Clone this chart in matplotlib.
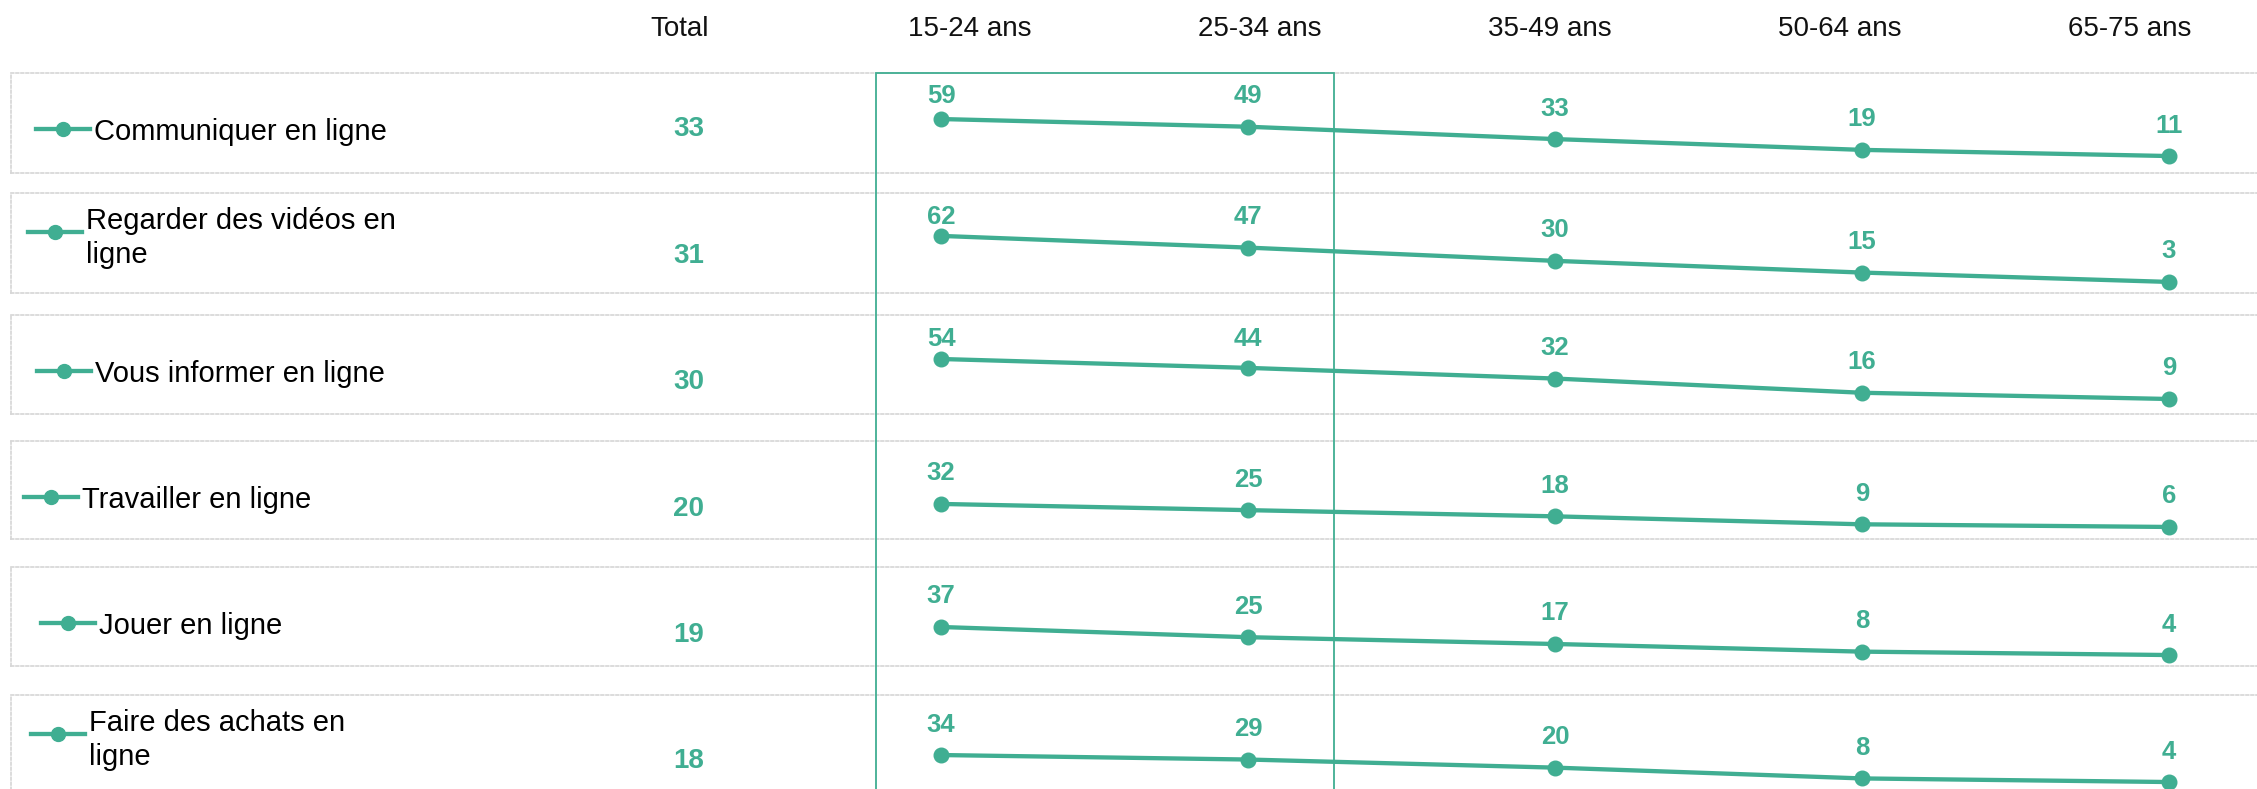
import matplotlib.pyplot as plt
from matplotlib.patches import Rectangle

plt.rcParams['font.family'] = ['Liberation Sans', 'DejaVu Sans']

# --- data ---
activities = ["Communiquer en ligne", "Regarder des vidéos en\nligne", "Vous informer en ligne",
              "Travailler en ligne", "Jouer en ligne", "Faire des achats en\nligne"]
age_groups = ["15-24 ans", "25-34 ans", "35-49 ans", "50-64 ans", "65-75 ans"]
total = [33, 31, 30, 20, 19, 18]
age_15_24 = [59, 62, 54, 32, 37, 34]
age_25_34 = [49, 47, 44, 25, 25, 29]
age_35_49 = [33, 30, 32, 18, 17, 20]
age_50_64 = [19, 15, 16, 9, 8, 8]
age_65_75 = [11, 3, 9, 6, 4, 4]

# --- layout (pixels, top-left origin) ---
W, H = 2257, 789
teal = '#40AE92'
grey = '#D6D6D6'
row_top = [73, 193, 315, 441, 567, 695]
row_bottom = [173, 293, 414, 539, 666, 794]
row_ylim = [(-11.0, 118.7), (-11.2, 117.0), (-7.9, 103.5), (-7.6, 103.1), (-8.9, 107.6), (-9.3, 100.7)]
key_x = [36, 28, 37, 24, 41, 31]
total_dy = [53, 60, 64, 65, 65, 63]
box_left, box_right = 11, 2265
pt0, pt_step = 941, 307
head_x0, head_step = 680, 290

fig = plt.figure(figsize=(W / 100, H / 100), dpi=100)


def fx(px):
    return px / W


def fy(py):
    return 1 - py / H


# column headers
fig.text(fx(head_x0), fy(26.5), "Total", ha='center', va='center_baseline', fontsize=20, color='#111111')
for i, g in enumerate(age_groups):
    fig.text(fx(head_x0 + head_step * (i + 1)), fy(26.5), g, ha='center', va='center_baseline',
             fontsize=20, color='#111111')

series = list(zip(age_15_24, age_25_34, age_35_49, age_50_64, age_65_75))

for r, name in enumerate(activities):
    top, bot = row_top[r], row_bottom[r]
    hpx = bot - top
    ax = fig.add_axes([fx(box_left), fy(bot), fx(box_right - box_left), hpx / H])
    ax.set_facecolor('none')
    lo, hi = row_ylim[r]
    ax.set_ylim(lo, hi)
    ax.set_xlim((box_left - pt0) / pt_step, (box_right - pt0) / pt_step)
    ax.set_xticks([])
    ax.set_yticks([])
    for sp in ax.spines.values():
        sp.set_color(grey)
        sp.set_linewidth(1.2)
        sp.set_linestyle((0, (1.6, 1.4)))

    vals = series[r]
    xs = range(len(vals))
    ax.plot(xs, vals, color=teal, lw=3.1, marker='o', ms=10.5, solid_capstyle='round',
            clip_on=False, zorder=3)

    s = hpx / (hi - lo)  # px per unit
    for x, v in zip(xs, vals):
        ly = min(v + 33 / s, hi - 21 / s)
        ax.text(x, ly, str(v), ha='center', va='center_baseline', fontsize=18.5,
                fontweight='bold', color=teal)

    # legend key
    ky = (bot - (top + (39 if '\n' in name else 56))) / hpx
    kx0 = (key_x[r] - box_left) / (box_right - box_left)
    kx1 = (key_x[r] + 54 - box_left) / (box_right - box_left)
    ax.plot([kx0, kx1], [ky, ky], color=teal, lw=3.1, transform=ax.transAxes)
    ax.plot([(kx0 + kx1) / 2], [ky], 'o', color=teal, ms=10, transform=ax.transAxes)
    ax.text((key_x[r] + 58 - box_left) / (box_right - box_left), ky, name, transform=ax.transAxes,
            ha='left', va='center_baseline', fontsize=21, color='#000000', linespacing=1.27)

    # total
    fig.text(fx(689), fy(top + total_dy[r]), str(total[r]), ha='center', va='center_baseline',
             fontsize=20, fontweight='bold', color=teal)

# highlight frame around the 15-34 columns
fig.add_artist(Rectangle((fx(876), fy(800)), fx(1334 - 876), (800 - 73) / H, fill=False,
                         edgecolor=teal, lw=1.3, transform=fig.transFigure, zorder=5))

fig.savefig('out.png', dpi=100)
